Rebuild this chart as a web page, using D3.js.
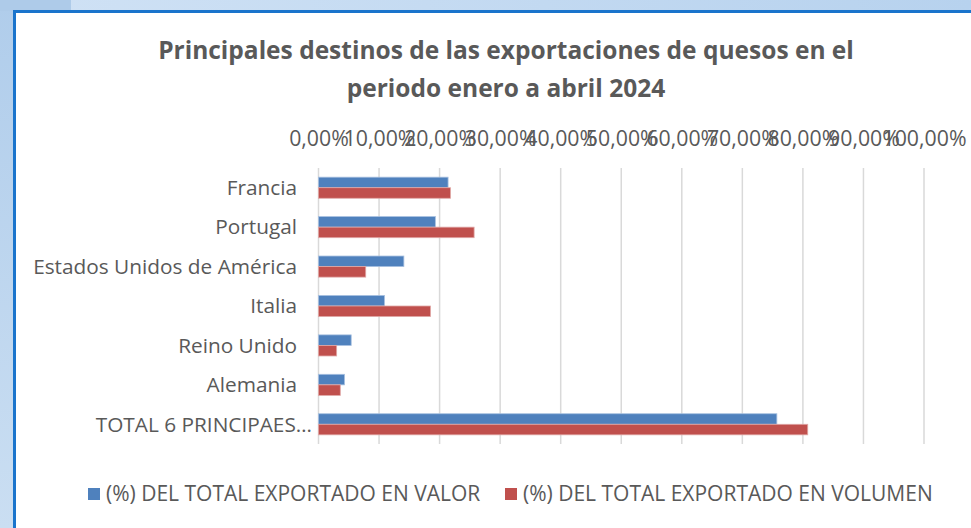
<!DOCTYPE html>
<html>
<head>
<meta charset="utf-8">
<script src="https://cdn.jsdelivr.net/npm/d3@7"></script>
<style>
  body { margin: 0; padding: 0; overflow: hidden; }
  text { font-family: "Open Sans", sans-serif; fill: #595959; }
</style>
</head>
<body>
<script>
// data
var categories = ["Francia", "Portugal", "Estados Unidos de América", "Italia",
                  "Reino Unido", "Alemania", "TOTAL 6 PRINCIPAES…"];
var valor    = [21.4, 19.3, 14.1, 10.9, 5.4, 4.3, 75.7];
var volumen  = [21.8, 25.7, 7.8, 18.5, 3.0, 3.6, 80.8];
var seriesNames = ["(%) DEL TOTAL EXPORTADO EN VALOR", "(%) DEL TOTAL EXPORTADO EN VOLUMEN"];
var seriesColors = ["#4f81bd", "#c0504d"];
var tickValues = [0, 10, 20, 30, 40, 50, 60, 70, 80, 90, 100];
var titleLines = ["Principales destinos de las exportaciones de quesos en el",
                  "periodo enero a abril 2024"];

var W = 971, H = 528;

var svg = d3.select('body').append('svg')
   .attr("width", W)
   .attr("height", H);

// backdrop (the slide behind the chart)
var defs = svg.append("defs");
var gTop = defs.append("linearGradient").attr("id", "topgrad");
gTop.append("stop").attr("offset", "0%").attr("stop-color", "#d0e2f5");
gTop.append("stop").attr("offset", "100%").attr("stop-color", "#b7d2ee");
var gLeft = defs.append("linearGradient").attr("id", "leftgrad")
   .attr("x1", 0).attr("y1", 0).attr("x2", 0).attr("y2", 1);
gLeft.append("stop").attr("offset", "0%").attr("stop-color", "#b0cdeb");
gLeft.append("stop").attr("offset", "100%").attr("stop-color", "#cadef2");

svg.append("rect").attr("x", 0).attr("y", 0).attr("width", W).attr("height", 12)
   .attr("fill", "url(#topgrad)");
svg.append("rect").attr("x", 0).attr("y", 0).attr("width", 15).attr("height", H)
   .attr("fill", "url(#leftgrad)");
svg.append("rect").attr("x", 0).attr("y", 0).attr("width", 71).attr("height", 11)
   .attr("fill", "#aecbe9");

// chart box
svg.append("rect")
   .attr("x", 14.5).attr("y", 11.5)
   .attr("width", W + 10).attr("height", H + 10)
   .attr("fill", "#ffffff")
   .attr("stroke", "#1a74cc")
   .attr("stroke-width", 3);

// title
svg.append("g").selectAll("text")
   .data(titleLines)
   .enter()
   .append("text")
   .attr("x", 506)
   .attr("y", function(d, i) { return 59 + i * 38; })
   .attr("text-anchor", "middle")
   .attr("font-size", 24.5)
   .attr("font-weight", "bold")
   .text(function(d) { return d; });

// scales
var x = d3.scaleLinear().domain([0, 100]).range([318.5, 924]);
var y = d3.scaleBand().domain(categories).range([168, 444]).padding(0);
var groupH = y.bandwidth() * 0.535;
var ySub = d3.scaleBand().domain([0, 1]).range([0, groupH]);

// gridlines
svg.append("g").selectAll("line")
   .data(tickValues)
   .enter()
   .append("line")
   .attr("x1", function(d) { return x(d); })
   .attr("x2", function(d) { return x(d); })
   .attr("y1", 168)
   .attr("y2", 444)
   .attr("stroke", "#d9d9d9")
   .attr("stroke-width", 1.5);

// top axis labels (they overlap in the original too)
var fmt = function(d) { return d3.format(".2f")(d).replace(".", ",") + "%"; };
var xAxis = svg.append("g")
   .attr("transform", "translate(0,146)")
   .call(d3.axisTop(x).tickValues(tickValues).tickSize(0).tickPadding(0).tickFormat(fmt));
xAxis.select(".domain").remove();
xAxis.selectAll("text")
   .attr("font-family", "Open Sans, sans-serif")
   .attr("font-size", 21.3)
   .attr("fill", "#595959")
   .attr("dy", 0);

// category labels
var yAxis = svg.append("g")
   .attr("transform", "translate(297,0)")
   .call(d3.axisLeft(y).tickSize(0).tickPadding(0));
yAxis.select(".domain").remove();
yAxis.selectAll("text")
   .attr("font-family", "Open Sans, sans-serif")
   .attr("font-size", 20.8)
   .attr("fill", "#595959")
   .attr("dy", "0.35em")
   // the truncated label runs a bit further right, like in excel
   .attr("dx", function(d) { return d.indexOf("…") >= 0 ? 15 : 0; });

// bars
var rows = categories.map(function(c, i) { return { cat: c, vals: [valor[i], volumen[i]] }; });
var groups = svg.append("g").selectAll("g")
   .data(rows)
   .enter()
   .append("g")
   .attr("transform", function(d) {
     return "translate(0," + (y(d.cat) + (y.bandwidth() - groupH) / 2) + ")";
   });
groups.selectAll("rect")
   .data(function(d) { return d.vals; })
   .enter()
   .append("rect")
   .attr("x", x(0))
   .attr("y", function(d, i) { return ySub(i); })
   .attr("width", function(d) { return x(d) - x(0); })
   .attr("height", ySub.bandwidth())
   .attr("fill", function(d, i) { return seriesColors[i]; })
   .attr("stroke", function(d, i) { return i === 0 ? "#a7c0e0" : "#e0a8a6"; })
   .attr("stroke-width", 0.8);

// legend
var legendX = [88, 505];
var legend = svg.append("g").selectAll("g")
   .data(seriesNames)
   .enter()
   .append("g")
   .attr("transform", function(d, i) { return "translate(" + legendX[i] + ",488)"; });
legend.append("rect")
   .attr("width", 12).attr("height", 12)
   .attr("fill", function(d, i) { return seriesColors[i]; });
legend.append("text")
   .attr("x", 18)
   .attr("y", 6)
   .attr("dy", "0.35em")
   .attr("font-size", 21)
   .text(function(d) { return d; });
</script>
</body>
</html>
